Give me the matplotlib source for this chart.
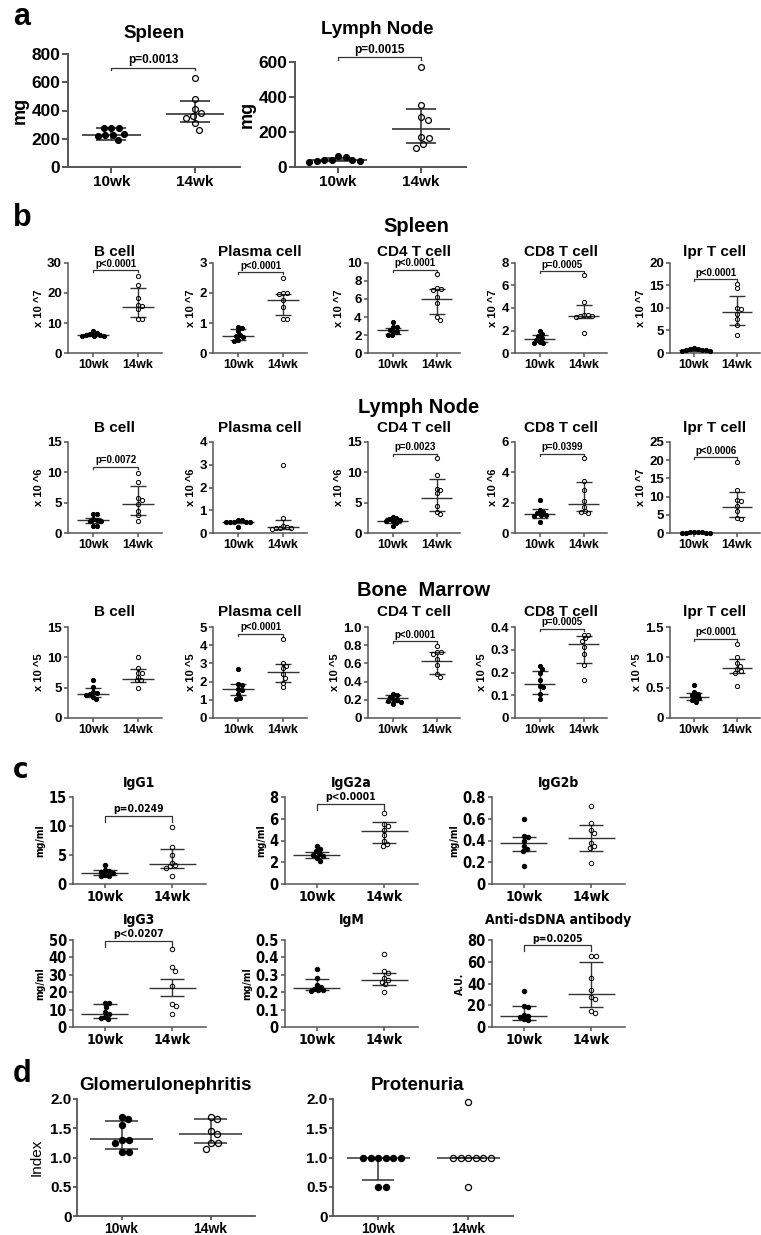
import matplotlib
matplotlib.use("Agg")
import matplotlib.pyplot as plt
from matplotlib import font_manager
from matplotlib.font_manager import FontProperties
import numpy as np

groups = ["10wk", "14wk"]

# ---------------- panel a : organ weight (mg) ----------------
mg_spleen_10 = [277, 277, 277, 237, 225, 218, 225, 189]
mg_spleen_14 = [627, 478, 414, 379, 362, 350, 308, 265]
mg_spleen_bars = [(225, 189, 277), (374, 320, 464)]   # centre, low, high
mg_ln_10 = [57, 40, 33, 27, 33, 40, 42, 62]
mg_ln_14 = [573, 353, 283, 268, 172, 168, 130, 109]
mg_ln_bars = [(42, 35, 50), (220, 138, 334)]

# ---------------- panel b : cell numbers ----------------
sp_b_10 = [7.2, 6.6, 6.3, 6.1, 6.0, 5.8, 5.7, 5.6]
sp_b_14 = [25.7, 22.6, 18.4, 15.9, 15.7, 14.5, 11.4, 11.4]
sp_b_bars = [(6.1, 5.8, 6.6), (15.4, 12.1, 21.6)]
sp_pc_10 = [0.88, 0.83, 0.72, 0.60, 0.58, 0.52, 0.45, 0.40]
sp_pc_14 = [2.5, 2.0, 2.0, 1.98, 1.75, 1.53, 1.13, 1.13]
sp_pc_bars = [(0.57, 0.45, 0.80), (1.76, 1.25, 1.95)]
sp_cd4_10 = [3.4, 2.9, 2.9, 2.6, 2.4, 2.3, 2.0, 2.0]
sp_cd4_14 = [8.75, 7.2, 7.1, 7.0, 6.25, 5.5, 4.0, 3.7]
sp_cd4_bars = [(2.5, 2.1, 2.8), (6.0, 4.3, 7.1)]
sp_cd8_10 = [2.0, 1.7, 1.5, 1.3, 1.2, 1.0, 0.9, 0.9]
sp_cd8_14 = [6.9, 4.5, 3.4, 3.4, 3.3, 3.3, 3.2, 1.8]
sp_cd8_bars = [(1.25, 0.95, 1.6), (3.25, 3.15, 4.25)]
sp_lpr_10 = [1.1, 0.9, 0.8, 0.7, 0.6, 0.5, 0.5, 0.6]
sp_lpr_14 = [15.3, 14.4, 10.0, 9.8, 8.6, 7.6, 6.2, 3.9]
sp_lpr_bars = [(0.6, 0.45, 0.8), (9.2, 6.25, 12.6)]

ln_b_10 = [3.1, 3.1, 2.3, 2.2, 2.0, 1.9, 1.2, 1.1]
ln_b_14 = [9.9, 8.4, 5.7, 5.4, 4.7, 3.7, 3.0, 2.0]
ln_b_bars = [(2.1, 1.7, 2.5), (4.8, 3.0, 7.7)]
ln_pc_10 = [0.55, 0.55, 0.5, 0.48, 0.47, 0.47, 0.5, 0.25]
ln_pc_14 = [3.0, 0.66, 0.3, 0.25, 0.22, 0.2, 0.2, 0.18]
ln_pc_bars = [(0.48, 0.45, 0.52), (0.25, 0.18, 0.59)]
ln_cd4_10 = [2.6, 2.4, 2.3, 2.1, 2.0, 1.9, 1.6, 1.2]
ln_cd4_14 = [12.4, 9.5, 7.3, 7.1, 6.6, 4.5, 3.4, 3.2]
ln_cd4_bars = [(2.0, 1.7, 2.4), (5.8, 3.7, 8.9)]
ln_cd8_10 = [2.2, 1.5, 1.4, 1.3, 1.2, 1.2, 1.1, 0.7]
ln_cd8_14 = [4.95, 3.45, 2.86, 2.1, 1.7, 1.45, 1.4, 1.3]
ln_cd8_bars = [(1.27, 1.0, 1.58), (1.9, 1.45, 3.35)]
ln_lpr_10 = [0.2, 0.15, 0.1, 0.1, 0.1, 0.1, 0.15, 0.2]
ln_lpr_14 = [19.5, 11.9, 9.2, 8.7, 7.3, 6.0, 4.1, 3.9]
ln_lpr_bars = [(0.12, 0.1, 0.15), (7.05, 4.3, 11.3)]

bm_b_10 = [6.3, 5.1, 4.3, 4.1, 4.0, 3.8, 3.5, 3.1]
bm_b_14 = [10.0, 8.2, 7.5, 7.5, 6.8, 6.3, 6.2, 5.0]
bm_b_bars = [(4.0, 3.5, 5.0), (6.4, 6.0, 8.0)]
bm_pc_10 = [2.7, 1.85, 1.8, 1.6, 1.55, 1.3, 1.1, 1.05]
bm_pc_14 = [4.35, 3.0, 2.85, 2.75, 2.4, 2.2, 1.95, 1.7]
bm_pc_bars = [(1.6, 1.25, 1.87), (2.55, 2.0, 2.95)]
bm_cd4_10 = [0.26, 0.25, 0.23, 0.21, 0.20, 0.19, 0.18, 0.15]
bm_cd4_14 = [0.79, 0.72, 0.72, 0.70, 0.65, 0.58, 0.48, 0.45]
bm_cd4_bars = [(0.22, 0.18, 0.25), (0.63, 0.48, 0.72)]
bm_cd8_10 = [0.23, 0.215, 0.20, 0.165, 0.14, 0.135, 0.105, 0.083]
bm_cd8_14 = [0.366, 0.366, 0.35, 0.34, 0.31, 0.28, 0.235, 0.167]
bm_cd8_bars = [(0.15, 0.105, 0.207), (0.325, 0.24, 0.36)]
bm_lpr_10 = [0.55, 0.43, 0.40, 0.38, 0.35, 0.33, 0.30, 0.26]
bm_lpr_14 = [1.22, 1.0, 0.9, 0.85, 0.8, 0.77, 0.75, 0.52]
bm_lpr_bars = [(0.34, 0.30, 0.42), (0.83, 0.74, 0.98)]

# ---------------- panel c : serum antibodies ----------------
igg1_10 = [3.3, 2.4, 2.2, 2.1, 1.9, 1.6, 1.4, 1.3]
igg1_14 = [9.8, 6.3, 5.0, 3.7, 3.2, 3.1, 2.8, 1.4]
igg1_bars = [(1.96, 1.55, 2.4), (3.5, 2.7, 6.1)]
igg2a_10 = [3.5, 3.2, 3.0, 2.8, 2.7, 2.6, 2.4, 2.1]
igg2a_14 = [6.5, 5.5, 5.3, 5.0, 4.5, 4.0, 3.7, 3.5]
igg2a_bars = [(2.68, 2.37, 2.98), (4.9, 3.8, 5.7)]
igg2b_10 = [0.6, 0.44, 0.43, 0.40, 0.35, 0.32, 0.30, 0.17]
igg2b_14 = [0.72, 0.56, 0.50, 0.47, 0.38, 0.35, 0.33, 0.19]
igg2b_bars = [(0.38, 0.30, 0.43), (0.42, 0.305, 0.545)]
igg3_10 = [13.8, 13.6, 11.5, 8.5, 7.5, 6.0, 5.2, 4.8]
igg3_14 = [44.6, 34.2, 32.3, 23.5, 13.5, 11.9, 7.7]
igg3_bars = [(7.7, 5.4, 13.5), (22.7, 17.9, 27.5)]
igm_10 = [0.335, 0.28, 0.24, 0.23, 0.22, 0.21, 0.21, 0.205]
igm_14 = [0.42, 0.32, 0.31, 0.28, 0.27, 0.26, 0.245, 0.2]
igm_bars = [(0.227, 0.21, 0.273), (0.27, 0.24, 0.313)]
dsdna_10 = [33, 19, 18, 11, 10, 9, 7, 6]
dsdna_14 = [65, 65, 45, 34, 28, 26, 15, 13]
dsdna_bars = [(9.8, 6.8, 19), (30.8, 18.5, 60)]

# ---------------- panel d : kidney ----------------
glom_10 = [1.7, 1.65, 1.55, 1.3, 1.3, 1.25, 1.1, 1.1]
glom_14 = [1.7, 1.65, 1.45, 1.4, 1.25, 1.25, 1.15]
glom_bars = [(1.31, 1.14, 1.63), (1.40, 1.25, 1.65)]
prot_10 = [1.0, 1.0, 1.0, 1.0, 1.0, 1.0, 0.5, 0.5]
prot_14 = [1.95, 1.0, 1.0, 1.0, 1.0, 1.0, 1.0, 0.5]
prot_bars = [(1.0, 0.62, 1.0), (1.0, 1.0, 1.0)]

# ------------------------------------------------------------
W, H = 761, 1235
fig = plt.figure(figsize=(W / 100, H / 100), dpi=100)
plt.rcParams["font.family"] = ["Liberation Sans", "DejaVu Sans"]
SANS = "Liberation Sans"
AXC = "#555555"
LINE = "#333333"


def find_narrow_bold():
    # panel c of the original uses a condensed face; take one if it is installed
    fonts = font_manager.fontManager.ttflist
    for f in fonts:
        if f.name == "Liberation Sans Narrow" and f.weight in (700, "bold"):
            return f.fname
    for f in fonts:
        if f.name == "DejaVu Sans" and "condensed" in str(f.stretch) and f.weight in (700, "bold"):
            return f.fname
    for f in fonts:
        if "Condensed" in f.name and f.weight in (700, "bold"):
            return f.fname
    return None


NARROW_FILE = find_narrow_bold()


def fp(size, weight="bold", narrow=False):
    if narrow and NARROW_FILE:
        return FontProperties(fname=NARROW_FILE, size=size)
    return FontProperties(family=SANS, weight=weight, size=size)


def add_ax(box):
    l, t, r, b = box
    return fig.add_axes([l / W, 1 - b / H, (r - l) / W, (b - t) / H])


def ftext(x, y, s, prop, **kw):
    fig.text(x / W, 1 - y / H, s, fontproperties=prop, **kw)


def swarm(vals, h_px, ylim, ppu, gap):
    # place each point as close to the group centre as it can go without overlap
    ys = (np.asarray(vals, float) - ylim[0]) / (ylim[1] - ylim[0]) * h_px
    placed = []
    offs = np.zeros(len(ys))
    for i in np.argsort(-ys, kind="stable"):
        y = ys[i]
        cands = [0.0]
        for px, py in placed:
            dy = abs(py - y)
            if dy < gap:
                dx = np.sqrt(gap ** 2 - dy ** 2)
                cands += [px + dx, px - dx]
        cands.sort(key=abs)
        for c in cands:
            if all((c - px) ** 2 + (y - py) ** 2 >= gap ** 2 - 1e-6 for px, py in placed):
                break
        placed.append((c, y))
        offs[i] = c
    return offs / ppu


def panel(box, xlim, ylim, yticks, dec, v10, v14, bars, st, ylabel=None, sig=None):
    ax = add_ax(box)
    l, t, r, b = box
    nar = st.get("narrow", False)
    ax.set_xlim(xlim)
    ax.set_ylim(ylim)
    ppu = (r - l) / (xlim[1] - xlim[0])
    for i, (c, lo, hi) in enumerate(bars):
        ax.hlines(c, i - 0.35, i + 0.35, color=LINE, lw=st["lw"], zorder=2)
        ax.hlines([lo, hi], i - 0.18, i + 0.18, color=LINE, lw=st["lw"], zorder=2)
        ax.vlines(i, lo, hi, color=LINE, lw=st["lw"], zorder=2)
    for i, (vals, face) in enumerate([(v10, "black"), (v14, "none")]):
        xo = swarm(vals, b - t, ylim, ppu, st["gap"])
        ax.plot(i + xo, vals, "o", ls="none", ms=st["ms"], mfc=face, mec="black",
                mew=st["mew"], zorder=3, clip_on=False)
    for s in ["top", "right"]:
        ax.spines[s].set_visible(False)
    for s in ["left", "bottom"]:
        ax.spines[s].set_color(AXC)
        ax.spines[s].set_linewidth(st["spine"])
    ax.set_xticks([0, 1])
    ax.set_xticklabels(groups, fontproperties=fp(st["xfs"], narrow=nar))
    ax.set_yticks(yticks)
    ax.set_yticklabels(["0" if v == 0 else f"{v:.{dec}f}" for v in yticks],
                       fontproperties=fp(st["yfs"], narrow=nar))
    ax.tick_params(length=st["tl"], width=st["spine"], color=AXC, pad=st.get("pad", 1.5))
    if ylabel:
        ax.set_ylabel(ylabel, fontproperties=fp(st["lfs"], st.get("lfw", "bold"), nar),
                      labelpad=st.get("lpad", 2))
    if sig:
        y, txt = sig
        drop = st["drop"] * (ylim[1] - ylim[0]) / (b - t)
        ax.plot([0, 0, 1, 1], [y - drop, y, y, y - drop], color=LINE, lw=0.9, clip_on=False)
        ax.annotate(txt, (0.5, y), xytext=(0, 1), textcoords="offset points", ha="center",
                    va="bottom", fontproperties=fp(st["pfs"], narrow=nar),
                    annotation_clip=False)
    return ax


# ---------------- panel a ----------------
st_a = dict(ms=4.2, gap=7.5, mew=0.9, lw=1.2, spine=1.4, tl=4, xfs=11, yfs=12.5, lfs=13,
            pfs=8.5, drop=2.5)
xa = (-0.52, 1.54)
ftext(13, 25, "a", fp(22), va="baseline")
panel((68, 54, 240, 167), xa, (0, 800), [0, 200, 400, 600, 800], 0,
      mg_spleen_10, mg_spleen_14, mg_spleen_bars, st_a, "mg", (703, "p=0.0013"))
ftext(154, 33, "Spleen", fp(13.5), ha="center", va="center")
panel((295, 62, 466, 167), xa, (0, 600), [0, 200, 400, 600], 0,
      mg_ln_10, mg_ln_14, mg_ln_bars, st_a, "mg", (627, "p=0.0015"))
ftext(377, 29, "Lymph Node", fp(13.5), ha="center", va="center")

# ---------------- panel b ----------------
st_b = dict(ms=3.0, gap=4.0, mew=0.7, lw=1.0, spine=1.1, tl=3, xfs=9, yfs=9.5, lfs=8,
            pfs=7, drop=2)
xb = (-0.56, 1.53)
b_cols = [68, 213, 368, 515, 670]
b_width = [94, 94, 92, 92, 90]
b_rows = [(263, 353), (442, 533), (627, 718)]
b_title_y = [252, 428, 612]
b_sections = [("Spleen", 416, 227), ("Lymph Node", 419, 407), ("Bone  Marrow", 424, 590)]
cell_titles = ["B cell", "Plasma cell", "CD4 T cell", "CD8 T cell", "lpr T cell"]
b_specs = [
    [(sp_b_10, sp_b_14, sp_b_bars, [0, 10, 20, 30], 0, "x 10 ^7", (27.6, "p<0.0001")),
     (sp_pc_10, sp_pc_14, sp_pc_bars, [0, 1, 2, 3], 0, "x 10 ^7", (2.7, "p<0.0001")),
     (sp_cd4_10, sp_cd4_14, sp_cd4_bars, [0, 2, 4, 6, 8, 10], 0, "x 10 ^7", (9.26, "p<0.0001")),
     (sp_cd8_10, sp_cd8_14, sp_cd8_bars, [0, 2, 4, 6, 8], 0, "x 10 ^7", (7.27, "p=0.0005")),
     (sp_lpr_10, sp_lpr_14, sp_lpr_bars, [0, 5, 10, 15, 20], 0, "x 10 ^7", (16.4, "p<0.0001"))],
    [(ln_b_10, ln_b_14, ln_b_bars, [0, 5, 10, 15], 0, "x 10 ^6", (10.9, "p=0.0072")),
     (ln_pc_10, ln_pc_14, ln_pc_bars, [0, 1, 2, 3, 4], 0, "x 10 ^6", None),
     (ln_cd4_10, ln_cd4_14, ln_cd4_bars, [0, 5, 10, 15], 0, "x 10 ^6", (13.1, "p=0.0023")),
     (ln_cd8_10, ln_cd8_14, ln_cd8_bars, [0, 2, 4, 6], 0, "x 10 ^6", (5.23, "p=0.0399")),
     (ln_lpr_10, ln_lpr_14, ln_lpr_bars, [0, 5, 10, 15, 20, 25], 0, "x 10 ^7", (20.8, "p<0.0006"))],
    [(bm_b_10, bm_b_14, bm_b_bars, [0, 5, 10, 15], 0, "x 10 ^5", None),
     (bm_pc_10, bm_pc_14, bm_pc_bars, [0, 1, 2, 3, 4, 5], 0, "x 10 ^5", (4.64, "p<0.0001")),
     (bm_cd4_10, bm_cd4_14, bm_cd4_bars, [0, 0.2, 0.4, 0.6, 0.8, 1.0], 1, "x 10 ^5", (0.847, "p<0.0001")),
     (bm_cd8_10, bm_cd8_14, bm_cd8_bars, [0, 0.1, 0.2, 0.3, 0.4], 1, "x 10 ^5", (0.393, "p=0.0005")),
     (bm_lpr_10, bm_lpr_14, bm_lpr_bars, [0, 0.5, 1.0, 1.5], 1, "x 10 ^5", (1.31, "p<0.0001"))],
]
ftext(13, 226, "b", fp(22), va="baseline")
for r, row in enumerate(b_specs):
    top, bot = b_rows[r]
    name, sx, sy = b_sections[r]
    ftext(sx, sy, name, fp(14.5), ha="center", va="center")
    for c, (v10, v14, bars, ticks, dec, lab, sig) in enumerate(row):
        left = b_cols[c]
        right = left + b_width[c]
        panel((left, top, right, bot), xb, (0, ticks[-1]), ticks, dec, v10, v14, bars, st_b, lab, sig)
        ftext((left + right) / 2, b_title_y[r], cell_titles[c], fp(11), ha="center", va="center")

# ---------------- panel c ----------------
st_c = dict(ms=3.2, gap=4.3, mew=0.7, lw=1.0, spine=1.1, tl=3, xfs=10, yfs=10.5, lfs=7.5,
            pfs=7.5, drop=6, narrow=True)
xc = (-0.47, 1.5)
c_cols = [73, 285, 492]
c_rows = [(797, 884), (940, 1027)]
c_title_y = [783, 920]
c_specs = [
    [("IgG1", igg1_10, igg1_14, igg1_bars, [0, 5, 10, 15], 0, "mg/ml", (11.8, "p=0.0249")),
     ("IgG2a", igg2a_10, igg2a_14, igg2a_bars, [0, 2, 4, 6, 8], 0, "mg/ml", (7.4, "p<0.0001")),
     ("IgG2b", igg2b_10, igg2b_14, igg2b_bars, [0, 0.2, 0.4, 0.6, 0.8], 1, "mg/ml", None)],
    [("IgG3", igg3_10, igg3_14, igg3_bars, [0, 10, 20, 30, 40, 50], 0, "mg/ml", (49.6, "p<0.0207")),
     ("IgM", igm_10, igm_14, igm_bars, [0, 0.1, 0.2, 0.3, 0.4, 0.5], 1, "mg/ml", None),
     ("Anti-dsDNA antibody", dsdna_10, dsdna_14, dsdna_bars, [0, 20, 40, 60, 80], 0, "A.U.", (75.4, "p=0.0205"))],
]
ftext(13, 778, "c", fp(21, narrow=True), va="baseline")
for r, row in enumerate(c_specs):
    top, bot = c_rows[r]
    for c, (title, v10, v14, bars, ticks, dec, lab, sig) in enumerate(row):
        left = c_cols[c]
        right = left + 133
        panel((left, top, right, bot), xc, (0, ticks[-1]), ticks, dec, v10, v14, bars, st_c, lab, sig)
        ftext((left + right) / 2, c_title_y[r], title, fp(10, narrow=True), ha="center", va="center")

# ---------------- panel d ----------------
st_d = dict(ms=4.4, gap=7.5, mew=0.9, lw=1.1, spine=1.3, tl=3, xfs=10, yfs=11, lfs=11,
            lfw="normal", lpad=5, pfs=8, drop=3, pad=1)
xd = (-0.5, 1.5)
d_ticks = [0, 0.5, 1.0, 1.5, 2.0]
ftext(13, 1082, "d", fp(22), va="baseline")
panel((77, 1099, 255, 1216), xd, (0, 2), d_ticks, 1, glom_10, glom_14, glom_bars, st_d, "Index")
ftext(166, 1085, "Glomerulonephritis", fp(13.5), ha="center", va="center")
panel((333, 1099, 513, 1216), xd, (0, 2), d_ticks, 1, prot_10, prot_14, prot_bars, st_d)
ftext(418, 1086, "Protenuria", fp(13.5), ha="center", va="center")

fig.savefig("out.png", dpi=100)
